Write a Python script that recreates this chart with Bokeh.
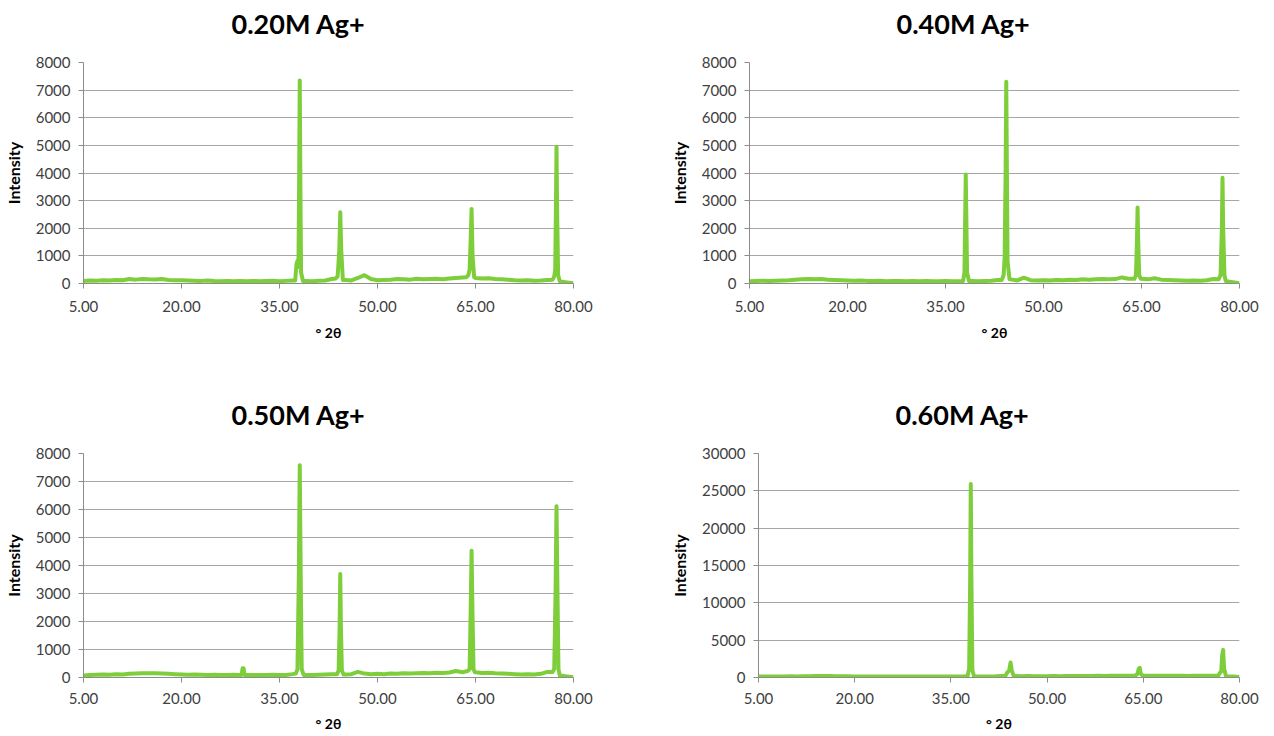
from bokeh.plotting import figure
from bokeh.layouts import column, row
from bokeh.models import FixedTicker, PrintfTickFormatter, Range1d, Title
from bokeh.embed import file_html
from bokeh.resources import INLINE

# ---------------- data ----------------
TITLES = ["0.20M Ag+", "0.40M Ag+", "0.50M Ag+", "0.60M Ag+"]
X_TICKS = [5, 20, 35, 50, 65, 80]
Y_TICKS_SMALL = [0, 1000, 2000, 3000, 4000, 5000, 6000, 7000, 8000]
Y_TICKS_LARGE = [0, 5000, 10000, 15000, 20000, 25000, 30000]

# baseline scan positions (degrees 2theta), peaks given separately
BASE_X = [x for x in range(5, 81) if x not in (38, 44, 64, 77)]

P1_BASE = [90, 110, 100, 120, 110, 130, 120, 160, 140, 165, 150, 145, 165, 130, 120, 115, 110,
           100, 95, 105, 90, 85, 95, 80, 90, 85, 95, 80, 90, 100, 85, 95, 110,
           90, 85, 100, 110, 160,
           130, 110, 200, 300, 160, 120, 130, 140, 160, 150, 140, 170, 150, 160, 170, 150, 180, 200, 220,
           200, 180, 190, 160, 150, 140, 120, 110, 120, 100, 110, 130,
           70, 40, 10]
P1_PEAK_X = [37.4, 37.6, 37.75, 37.9, 38.0, 38.1, 38.2, 38.3, 38.6,
             43.6, 43.9, 44.15, 44.3, 44.45, 44.7,
             63.6, 63.9, 64.1, 64.25, 64.4, 64.55, 64.8,
             76.8, 77.05, 77.2, 77.3, 77.4, 77.5, 77.65, 77.9]
P1_PEAK_Y = [110, 700, 820, 600, 3500, 7350, 3500, 400, 90,
             180, 260, 1200, 2580, 1200, 130,
             230, 300, 500, 1500, 2700, 1000, 220,
             140, 250, 500, 2500, 4950, 2500, 300, 80]

P2_BASE = [80, 90, 100, 90, 100, 110, 120, 140, 150, 165, 155, 160, 140, 130, 120, 110, 100,
           110, 95, 90, 100, 85, 90, 95, 80, 90, 85, 90, 80, 85, 90, 80, 85,
           90, 85, 90, 100, 130,
           150, 110, 210, 120, 110, 120, 110, 130, 120, 140, 130, 150, 140, 150, 160, 150, 160, 220, 170,
           170, 150, 190, 140, 130, 120, 110, 100, 110, 100, 120, 160,
           80, 50, 10]
P2_PEAK_X = [37.7, 37.9, 38.0, 38.1, 38.2, 38.3, 38.6,
             43.6, 43.9, 44.05, 44.2, 44.3, 44.4, 44.5, 44.8,
             63.9, 64.15, 64.3, 64.4, 64.5, 64.65, 64.9,
             76.8, 77.1, 77.3, 77.4, 77.5, 77.7, 77.9]
P2_PEAK_Y = [90, 400, 2200, 3950, 2200, 400, 90,
             130, 300, 950, 4000, 7300, 4000, 800, 150,
             170, 300, 1500, 2750, 1500, 300, 170,
             150, 300, 2000, 3830, 2000, 300, 90]

P3_BASE = [70, 90, 100, 110, 100, 120, 110, 130, 140, 150, 155, 150, 140, 130, 120, 110, 100,
           105, 95, 90, 100, 90, 85, 95, 90, 85, 90, 85, 90, 95, 85, 90, 120,
           90, 85, 100, 110, 120,
           110, 120, 200, 140, 120, 130, 120, 140, 130, 150, 140, 150, 160, 150, 170, 160, 180, 230, 190,
           190, 160, 170, 150, 140, 130, 120, 110, 120, 110, 130, 200,
           70, 40, 10]
P3_PEAK_X = [29.2, 29.35, 29.5, 29.65,
             37.5, 37.75, 37.95, 38.1, 38.25, 38.4, 38.7,
             43.8, 44.05, 44.2, 44.3, 44.4, 44.55, 44.8,
             63.8, 64.1, 64.25, 64.4, 64.55, 64.7, 64.9,
             76.8, 77.05, 77.25, 77.4, 77.55, 77.7, 77.9]
P3_PEAK_Y = [90, 330, 330, 90,
             140, 300, 3500, 7580, 3500, 300, 90,
             120, 250, 1800, 3700, 1800, 250, 110,
             230, 300, 2200, 4530, 2200, 300, 190,
             200, 300, 3000, 6120, 3000, 300, 70]

P4_BASE = [120, 130, 140, 130, 150, 160, 150, 170, 180, 190, 200, 190, 180, 170, 160, 150, 140,
           150, 130, 140, 130, 120, 130, 120, 130, 120, 130, 120, 130, 140, 130, 140, 150,
           150, 140, 150, 160, 200,
           200, 170, 200, 180, 170, 180, 190, 180, 200, 190, 210, 200, 210, 220, 210, 230, 220, 240, 250,
           260, 240, 230, 240, 220, 230, 220, 210, 220, 230, 240, 250,
           150, 120, 80]
P4_PEAK_X = [37.6, 37.85, 38.0, 38.1, 38.2, 38.35, 38.6,
             43.5, 43.8, 43.95, 44.1, 44.3, 44.5, 44.8,
             63.8, 64.1, 64.3, 64.45, 64.6, 64.9,
             76.7, 77.0, 77.15, 77.3, 77.45, 77.6, 77.9]
P4_PEAK_Y = [200, 1200, 13000, 25900, 13000, 1000, 160,
             220, 700, 800, 1000, 2000, 900, 210,
             260, 500, 1200, 1300, 500, 260,
             260, 700, 800, 3000, 3700, 1200, 160]

PANELS = [
    (P1_BASE, P1_PEAK_X, P1_PEAK_Y, 8000, Y_TICKS_SMALL),
    (P2_BASE, P2_PEAK_X, P2_PEAK_Y, 8000, Y_TICKS_SMALL),
    (P3_BASE, P3_PEAK_X, P3_PEAK_Y, 8000, Y_TICKS_SMALL),
    (P4_BASE, P4_PEAK_X, P4_PEAK_Y, 30000, Y_TICKS_LARGE),
]

LINE_COLOR = "#7DCE3A"
GRID_COLOR = "#A6A6A6"
AXIS_COLOR = "#8C8C8C"
TEXT_COLOR = "#404040"
FONT = "Lato"

# per-panel layout: (width, height, border left, right, top, bottom, title offset)
LAYOUT = [
    (637, 366, 83, 64, 60, 83, 148),
    (635, 366, 112, 33, 60, 83, 147),
    (637, 369, 83, 64, 87, 58, 148),
    (635, 369, 121, 33, 87, 58, 137),
]


def merged(base_y, peak_x, peak_y):
    pts = list(zip(BASE_X, base_y)) + list(zip(peak_x, peak_y))
    pts.sort(key=lambda t: t[0])
    return [p[0] for p in pts], [p[1] for p in pts]


def make(idx):
    base_y, pk_x, pk_y, ymax, yticks = PANELS[idx]
    w, h, bl, br, bt, bb, toff = LAYOUT[idx]
    top_row = idx < 2
    p = figure(width=w, height=h, output_backend="svg", toolbar_location=None,
               x_range=Range1d(5, 80), y_range=Range1d(0, ymax))
    p.min_border_left = bl
    p.min_border_right = br
    p.min_border_top = bt
    p.min_border_bottom = bb
    p.outline_line_color = None
    p.background_fill_color = "white"
    p.border_fill_color = "white"

    # small spacer between plot area and chart title, then the title itself
    p.add_layout(Title(text=" ", text_font_size="10px", standoff=6), "above")
    p.add_layout(Title(text=TITLES[idx], text_font=FONT, text_font_size="27px",
                       text_font_style="bold", text_color="black",
                       align="left", offset=toff, standoff=8), "above")

    x, y = merged(base_y, pk_x, pk_y)
    p.line(x, y, line_color=LINE_COLOR, line_width=4, line_join="round")

    p.xgrid.visible = False
    p.ygrid.grid_line_color = GRID_COLOR
    p.ygrid.grid_line_width = 1

    xa = p.xaxis[0]
    xa.ticker = FixedTicker(ticks=X_TICKS)
    xa.formatter = PrintfTickFormatter(format="%.2f")
    ya = p.yaxis[0]
    ya.ticker = FixedTicker(ticks=yticks)
    for ax in (xa, ya):
        ax.axis_line_color = AXIS_COLOR
        ax.major_tick_line_color = AXIS_COLOR
        ax.major_tick_out = 5
        ax.major_tick_in = 0
        ax.minor_tick_line_color = None
        ax.major_label_text_font = FONT
        ax.major_label_text_font_size = "15px"
        ax.major_label_text_color = TEXT_COLOR
        ax.axis_label_text_font = FONT
        ax.axis_label_text_font_style = "bold"
        ax.axis_label_text_color = "black"
    xa.axis_label = "° 2θ"
    xa.axis_label_text_font_size = "14px"
    xa.major_label_standoff = 12 if top_row else 10
    xa.axis_label_standoff = 9 if top_row else 8
    ya.axis_label = "Intensity"
    ya.axis_label_text_font_size = "16px"
    ya.major_label_standoff = 8
    ya.axis_label_standoff = 10
    return p


plots = [make(i) for i in range(4)]
layout = column(row(plots[0], plots[1]), row(plots[2], plots[3]))

open("out.html", "w").write(file_html(layout, INLINE))
